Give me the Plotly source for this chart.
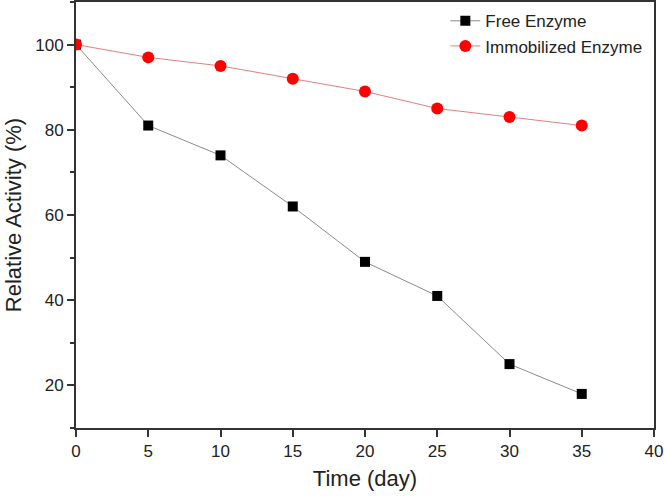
import plotly.graph_objects as go

days = [0, 5, 10, 15, 20, 25, 30, 35]
free_enzyme = [100, 81, 74, 62, 49, 41, 25, 18]
immobilized_enzyme = [100, 97, 95, 92, 89, 85, 83, 81]

fig = go.Figure()
fig.add_trace(go.Scatter(
    x=days, y=free_enzyme, mode="lines+markers", name="Free Enzyme",
    line=dict(color="#8a8a8a", width=1),
    marker=dict(symbol="square", size=10, color="black"),
))
fig.add_trace(go.Scatter(
    x=days, y=immobilized_enzyme, mode="lines+markers", name="Immobilized Enzyme",
    line=dict(color="#e08080", width=1),
    marker=dict(symbol="circle", size=12, color="#ff0000"),
))

axis_common = dict(
    showline=True, linecolor="#333333", linewidth=2, mirror=True,
    showgrid=False, zeroline=False, ticks="outside", ticklen=7, tickwidth=1.5,
    tickcolor="#333333", tickfont=dict(size=17, color="#222222"),
)

fig.update_layout(
    width=665, height=496,
    margin=dict(l=76, r=11, t=2, b=68, autoexpand=False),
    paper_bgcolor="white", plot_bgcolor="white",
    font=dict(family="Liberation Sans, Arial, sans-serif", color="#222222"),
    xaxis=dict(range=[0, 40], dtick=5, tick0=0,
               title=dict(text="Time (day)", font=dict(size=22), standoff=10),
               **axis_common),
    yaxis=dict(range=[10, 110], dtick=20, tick0=0,
               title=dict(text="Relative Activity (%)", font=dict(size=22), standoff=8),
               minor=dict(ticks="outside", dtick=10, tick0=0, ticklen=4, tickcolor="#333333"),
               **axis_common),
    legend=dict(x=0.639, y=0.997, xanchor="left", yanchor="top",
                font=dict(size=17, color="#222222"), bgcolor="rgba(0,0,0,0)",
                tracegroupgap=2, itemwidth=30),
    showlegend=True,
)

fig.write_html("out.html", config={"displayModeBar": False},
               post_script="document.body.style.margin='0';")
